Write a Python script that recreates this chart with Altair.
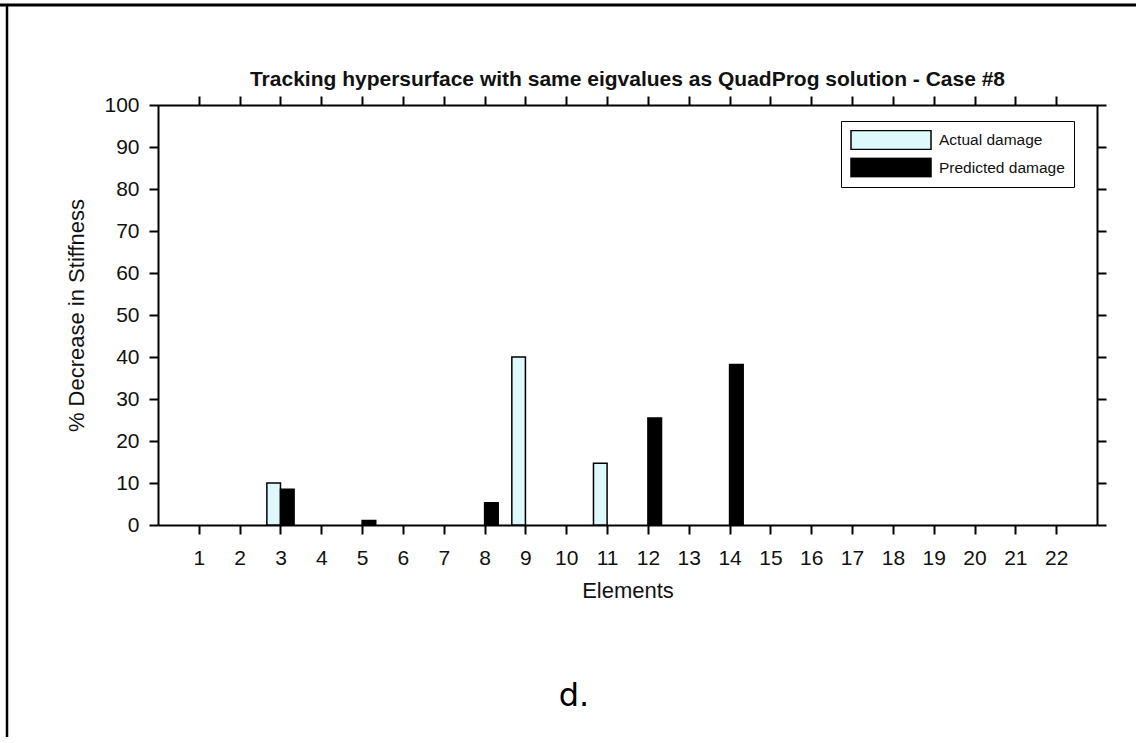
import altair as alt
import pandas as pd

# ---- data -------------------------------------------------------------
elements = list(range(1, 23))
actual_damage = [0, 0, 10, 0, 0, 0, 0, 0, 40, 0, 14.7, 0,
                 0, 0, 0, 0, 0, 0, 0, 0, 0, 0]
predicted_damage = [0, 0, 8.5, 0, 1.1, 0, 0, 5.3, 0, 0, 0, 25.5,
                    0, 38.2, 0, 0, 0, 0, 0, 0, 0, 0]
series_names = ["Actual damage", "Predicted damage"]
series_colors = ["#DDF9FB", "#000000"]
y_ticks = list(range(0, 101, 10))
chart_title = "Tracking hypersurface with same eigvalues as QuadProg solution - Case #8"
panel_label = "d."

df = pd.DataFrame({
    "element": elements * 2,
    "series": [series_names[0]] * len(elements) + [series_names[1]] * len(elements),
    "value": actual_damage + predicted_damage,
})

FONT = "Liberation Sans"
INK = "#111111"
W, H = 939, 420

x_scale = alt.Scale(domain=[0, 23], nice=False, zero=False)
y_scale = alt.Scale(domain=[0, 100], nice=False)

common_axis = dict(
    grid=False, tickSize=9, tickWidth=2, tickColor="black",
    domainColor="black", domainWidth=2,
    labelFont=FONT, labelColor=INK, labelFontSize=21,
    titleFont=FONT, titleColor=INK, titleFontSize=22, titleFontWeight="normal",
)

bottom_axis = alt.Axis(values=elements, format="d", labelPadding=13,
                       labelFlush=False, labelOverlap=False,
                       title="Elements", titlePadding=12, **common_axis)
left_axis = alt.Axis(values=y_ticks, format="d", labelPadding=10,
                     title="% Decrease in Stiffness", titlePadding=15,
                     **common_axis)
top_axis = alt.Axis(orient="top", values=elements, labels=False, title=None,
                    **common_axis)
right_axis = alt.Axis(orient="right", values=y_ticks, labels=False, title=None,
                      **common_axis)

legend = alt.Legend(
    title=None, orient="none", legendX=683, legendY=16,
    symbolType="M-1,-0.24H1V0.24H-1Z", symbolSize=6400,
    symbolStrokeColor="black", symbolStrokeWidth=1.5, symbolOpacity=1,
    clipHeight=20, rowPadding=7.5, padding=9,
    strokeColor="black", fillColor="white",
    labelFont=FONT, labelFontSize=15.5, labelColor=INK, labelOffset=7,
)

# Each element gets two adjacent bars: actual to the left of the tick,
# predicted to the right, each a third of a category wide.
bars = alt.Chart(df).transform_filter("datum.value > 0").transform_calculate(
    x0="datum.series == 'Actual damage' ? datum.element - 1/3 : datum.element",
    x1="datum.series == 'Actual damage' ? datum.element : datum.element + 1/3",
).mark_bar(stroke="black", strokeWidth=1.5).encode(
    x=alt.X("x0:Q", scale=x_scale, axis=bottom_axis),
    x2="x1:Q",
    y=alt.Y("value:Q", scale=y_scale, axis=left_axis),
    y2=alt.datum(0),
    color=alt.Color("series:N",
                    scale=alt.Scale(domain=series_names, range=series_colors),
                    legend=legend),
)

# Invisible layer that carries the tick-only top and right axes
mirror = alt.Chart(df).mark_point(opacity=0).encode(
    x=alt.X("element:Q", scale=x_scale, axis=top_axis),
    y=alt.Y("value:Q", scale=y_scale, axis=right_axis),
)

one = pd.DataFrame({"title": [chart_title], "label": [panel_label]})

title_text = alt.Chart(one).mark_text(
    font=FONT, fontSize=21, fontWeight="bold", color=INK,
    align="center", baseline="alphabetic",
).encode(x=alt.value(W / 2), y=alt.value(-19), text="title:N")

# Page frame: top and left rules
frame_top = alt.Chart(one).mark_rule(color="black", strokeWidth=3).encode(
    x=alt.value(-158), x2=alt.value(978), y=alt.value(-100), y2=alt.value(-100))
frame_left = alt.Chart(one).mark_rule(color="black", strokeWidth=2.5).encode(
    x=alt.value(-151), x2=alt.value(-151), y=alt.value(-101), y2=alt.value(640))

caption = alt.Chart(one).mark_text(
    font="DejaVu Sans", fontSize=32, color="black",
    align="center", baseline="alphabetic",
).encode(x=alt.value(416), y=alt.value(601), text="label:N")

chart = alt.layer(bars, mirror, title_text, frame_top, frame_left, caption).resolve_axis(
    x="independent", y="independent"
).properties(
    width=W, height=H,
    autosize=alt.AutoSizeParams(type="none"),
    padding={"left": 158, "top": 105, "right": 39, "bottom": 212},
    background="white",
).configure_view(stroke=None)

chart.save("out.html", embed_options={"renderer": "svg", "actions": False})
